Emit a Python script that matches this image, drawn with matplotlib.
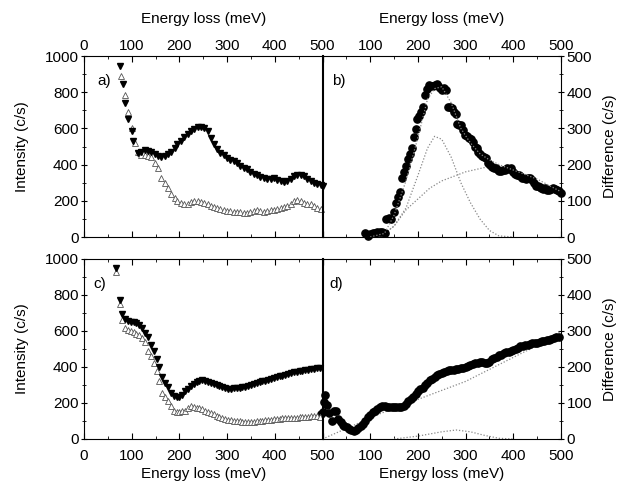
import matplotlib
matplotlib.use("Agg")
import matplotlib.pyplot as plt
from matplotlib.ticker import MultipleLocator

plt.rcParams["font.family"] = ["Liberation Sans", "DejaVu Sans"]
plt.rcParams["font.size"] = 11

# ---- panel a: intensity spectra ----
a_fill_x = [75, 82, 86, 93, 100, 103, 113, 120, 127, 134, 141, 148, 155, 162, 169, 176,
            183, 190, 196, 203, 210, 217, 224, 231, 238, 245, 252, 259, 266, 272, 279, 286,
            293, 300, 307, 314, 321, 328, 335, 342, 349, 356, 363, 370, 377, 384, 391, 398,
            405, 412, 419, 426, 433, 440, 447, 454, 461, 468, 475, 482, 489, 496, 500]
a_fill_y = [945, 843, 742, 650, 585, 530, 466, 470, 480, 475, 468, 458, 450, 440, 448, 458,
            470, 492, 512, 530, 550, 567, 585, 598, 605, 606, 600, 588, 545, 512, 488, 466,
            452, 438, 428, 418, 410, 395, 382, 374, 360, 350, 340, 330, 326, 322, 320, 324,
            316, 310, 305, 310, 322, 335, 342, 345, 335, 322, 310, 300, 292, 285, 280]
a_open_x = [78, 86, 93, 100, 107, 113, 120, 127, 134, 141, 148, 155, 162, 169, 176, 183,
            190, 196, 203, 210, 217, 224, 231, 238, 245, 252, 259, 266, 272, 279, 286, 293,
            300, 307, 314, 321, 328, 335, 342, 349, 356, 363, 370, 377, 384, 391, 398, 405,
            412, 419, 426, 433, 440, 447, 454, 461, 468, 475, 482, 489, 496]
a_open_y = [890, 785, 690, 600, 520, 470, 455, 452, 445, 440, 410, 383, 328, 300, 272, 240,
            215, 199, 190, 185, 180, 195, 200, 198, 195, 190, 180, 172, 165, 160, 155, 150,
            144, 142, 140, 140, 138, 135, 135, 140, 145, 150, 145, 140, 145, 148, 150, 155,
            160, 165, 172, 185, 200, 205, 200, 190, 185, 180, 170, 160, 155]

# ---- panel c: intensity spectra ----
c_fill_x = [68, 75, 80, 86, 92, 98, 104, 110, 116, 122, 128, 134, 140, 146, 152, 158, 164,
            170, 176, 182, 188, 194, 200, 206, 212, 218, 224, 230, 236, 242, 248, 254, 260,
            266, 272, 278, 284, 290, 296, 302, 308, 314, 320, 326, 332, 338, 344, 350, 356,
            362, 368, 374, 380, 386, 392, 398, 404, 410, 416, 422, 428, 434, 440, 446, 452,
            458, 464, 470, 476, 482, 488, 494]
c_fill_y = [950, 770, 696, 665, 655, 652, 650, 645, 635, 618, 590, 565, 525, 490, 445, 400, 345,
            310, 288, 255, 240, 232, 235, 245, 265, 280, 295, 308, 318, 325, 328, 325, 318,
            310, 305, 298, 292, 288, 283, 280, 280, 282, 283, 285, 288, 290, 295, 300, 305,
            310, 315, 320, 325, 330, 335, 338, 343, 348, 352, 357, 362, 366, 370, 374, 377,
            380, 383, 386, 388, 390, 392, 395]
c_open_x = [68, 75, 80, 86, 92, 98, 104, 110, 116, 122, 128, 134, 140, 146, 152, 158, 164,
            170, 176, 182, 188, 194, 200, 206, 212, 218, 224, 230, 236, 242, 248, 254, 260,
            266, 272, 278, 284, 290, 296, 302, 308, 314, 320, 326, 332, 338, 344, 350, 356,
            362, 368, 374, 380, 386, 392, 398, 404, 410, 416, 422, 428, 434, 440, 446, 452,
            458, 464, 470, 476, 482, 488, 494]
c_open_y = [930, 750, 660, 614, 605, 598, 595, 585, 576, 560, 540, 490, 460, 420, 380, 320, 255,
            235, 210, 185, 158, 152, 152, 153, 155, 170, 182, 180, 175, 170, 165, 158, 150,
            145, 140, 130, 122, 118, 112, 108, 105, 102, 100, 98, 96, 95, 95, 96, 97,
            98, 100, 102, 104, 106, 108, 110, 112, 113, 114, 115, 116, 116, 117, 118, 120,
            122, 124, 125, 127, 128, 126, 125]

# ---- panel b: difference spectrum and fit ----
b_x = [90, 95, 100, 105, 110, 115, 120, 125, 130, 134, 139, 144, 149, 154, 159, 163, 167,
       171, 175, 179, 183, 187, 191, 195, 199, 203, 207, 211, 215, 219, 223, 227, 231, 235,
       239, 243, 247, 251, 255, 259, 263, 267, 271, 275, 279, 283, 287, 291, 295, 299, 303,
       307, 311, 315, 319, 323, 327, 331, 335, 339, 343, 347, 351, 355, 359, 363, 367, 371,
       375, 379, 383, 387, 391, 395, 399, 403, 407, 411, 415, 419, 423, 427, 431, 435, 439,
       443, 447, 451, 455, 459, 463, 467, 471, 475, 479, 483, 487, 491, 495, 499]
b_y = [10, 3, 8, 12, 10, 14, 15, 13, 12, 50, 52, 50, 70, 93, 110, 125, 163,
       180, 197, 215, 230, 247, 275, 297, 325, 334, 345, 360, 393, 410, 421, 418, 416, 420,
       424, 418, 411, 405, 411, 405, 360, 358, 355, 345, 341, 312, 310, 309, 295, 283, 278,
       274, 270, 262, 250, 245, 235, 228, 225, 222, 219, 205, 198, 194, 190, 191, 185, 182,
       181, 185, 186, 190, 188, 191, 180, 175, 172, 170, 168, 163, 163, 160, 162, 163, 158,
       150, 142, 140, 137, 135, 133, 135, 131, 130, 133, 135, 132, 131, 128, 121]
b_fit_x = [100, 130, 150, 175, 200, 220, 235, 250, 270, 290, 310, 330, 350, 370, 400, 450, 500]
b_fit_y = [0, 10, 60, 155, 275, 380, 410, 415, 370, 300, 260, 230, 213, 200, 185, 160, 125]
b_peak_x = [100, 130, 150, 175, 200, 220, 235, 250, 270, 290, 310, 330, 350, 370, 400]
b_peak_y = [0, 10, 30, 80, 170, 245, 278, 270, 220, 150, 95, 50, 18, 3, 0]
b_bg_x = [120, 150, 175, 200, 225, 250, 300, 350]
b_bg_y = [0, 30, 75, 105, 135, 155, 180, 195]

# ---- panel d: difference spectrum and fit ----
d_x = [-3, 0, 3, 5, 9, 14, 19, 24, 28, 33, 38, 42, 46, 51, 55, 60, 66, 70, 75, 80, 85, 90,
       95, 100, 105, 110, 115, 120, 125, 130, 135, 140, 145, 150, 155, 160, 165, 170, 175,
       180, 185, 190, 195, 200, 205, 210, 215, 220, 225, 230, 235, 240, 245, 250, 255, 260,
       265, 270, 275, 280, 285, 290, 295, 300, 305, 310, 315, 320, 325, 330, 335, 340, 345,
       350, 355, 360, 365, 370, 375, 380, 385, 390, 395, 400, 405, 410, 415, 420, 425, 430,
       435, 440, 445, 450, 455, 460, 465, 470, 475, 480, 485, 490, 495]
d_y = [70, 74, 103, 121, 95, 72, 51, 78, 79, 55, 48, 40, 37, 32, 28, 25, 23, 25, 30, 37, 42, 50,
       60, 68, 74, 78, 84, 88, 93, 92, 90, 88, 88, 90, 89, 88, 88, 92, 98,
       105, 112, 118, 126, 132, 138, 142, 150, 156, 163, 168, 173, 177, 180, 182, 185, 188,
       191, 192, 193, 194, 195, 196, 197, 200, 202, 205, 208, 210, 212, 214, 213, 212, 210,
       215, 222, 225, 228, 232, 234, 238, 241, 243, 245, 247, 250, 254, 257, 258, 260, 261,
       264, 266, 268, 268, 270, 272, 273, 275, 276, 278, 280, 282, 284]
d_bg_x = [0, 60, 120, 180, 240, 300, 360, 420, 460, 500]
d_bg_y = [0, 35, 70, 100, 130, 160, 200, 240, 265, 300]
d_peak_x = [150, 200, 250, 280, 310, 340, 370, 400]
d_peak_y = [0, 8, 20, 25, 20, 10, 2, 0]

fig = plt.figure(figsize=(6.18, 4.87), dpi=100)

L, M, R = 84 / 618, 322.5 / 618, 561 / 618
top_b, top_h = 1 - 237 / 487, (237 - 56) / 487
bot_b, bot_h = 1 - 439 / 487, (439 - 259) / 487

# right-hand panels first so the thick divider of the left panels sits on top
ax_b = fig.add_axes([M, top_b, R - M, top_h])
ax_d = fig.add_axes([M, bot_b, R - M, bot_h])
ax_a = fig.add_axes([L, top_b, M - L, top_h])
ax_c = fig.add_axes([L, bot_b, M - L, bot_h])

FIT = dict(color="#888888", lw=0.9, ls=(0, (1, 1.5)))
DOWN = dict(ls="none", marker="v", ms=5, color="black", clip_on=False)
UP = dict(ls="none", marker="^", ms=5, mfc="white", mec="#555555", mew=0.6, clip_on=False)
DOT = dict(ls="none", marker="o", ms=5.2, color="black", clip_on=False)

ax_a.plot(a_open_x, a_open_y, **UP)
ax_a.plot(a_fill_x, a_fill_y, **DOWN)
ax_c.plot(c_open_x, c_open_y, **UP)
ax_c.plot(c_fill_x, c_fill_y, **DOWN)

ax_b.plot(b_peak_x, b_peak_y, **FIT)
ax_b.plot(b_bg_x, b_bg_y, **FIT)
ax_b.plot(b_x, b_y, **DOT)
ax_b.plot(b_fit_x, b_fit_y, **FIT)

ax_d.plot(d_peak_x, d_peak_y, **FIT)
ax_d.plot(d_bg_x, d_bg_y, **FIT)
ax_d.plot(d_x, d_y, **DOT)

for ax in (ax_a, ax_c):
    ax.patch.set_alpha(0)
    ax.set_xlim(0, 500)
    ax.set_ylim(0, 1000)
    ax.yaxis.set_major_locator(MultipleLocator(200))
    ax.yaxis.set_minor_locator(MultipleLocator(100))
    ax.set_ylabel("Intensity (c/s)", labelpad=11)
    ax.spines["right"].set_linewidth(1.5)
    ax.tick_params(axis="y", which="both", direction="inout", left=True, right=False)

for ax in (ax_b, ax_d):
    ax.set_xlim(0, 500)
    ax.set_ylim(0, 500)
    ax.yaxis.set_major_locator(MultipleLocator(100))
    ax.yaxis.set_minor_locator(MultipleLocator(50))
    ax.yaxis.set_label_position("right")
    ax.yaxis.tick_right()
    ax.set_ylabel("Difference (c/s)", labelpad=8)
    ax.tick_params(axis="y", which="both", direction="inout", left=False, right=True)
    ax.spines["left"].set_visible(False)

for ax in (ax_a, ax_b, ax_c, ax_d):
    ax.xaxis.set_major_locator(MultipleLocator(100))
    ax.xaxis.set_minor_locator(MultipleLocator(50))
    ax.tick_params(axis="x", which="both", direction="in", top=True, bottom=True)
    ax.tick_params(which="major", length=4, labelsize=11, pad=2)
    ax.tick_params(which="minor", length=2.5)

for ax in (ax_a, ax_b):
    ax.xaxis.set_label_position("top")
    ax.tick_params(axis="x", labeltop=True, labelbottom=False)
    ax.set_xlabel("Energy loss (meV)", labelpad=12)
for ax in (ax_c, ax_d):
    ax.tick_params(axis="x", which="major", pad=7)
    ax.set_xlabel("Energy loss (meV)", labelpad=3)

for ax in (ax_b, ax_d):
    ax.set_xticks([0, 100, 200, 300, 400, 500], ["", "100", "200", "300", "400", "500"])

ax_a.text(0.055, 0.86, "a)", transform=ax_a.transAxes, va="center")
ax_b.text(0.04, 0.86, "b)", transform=ax_b.transAxes, va="center")
ax_c.text(0.04, 0.86, "c)", transform=ax_c.transAxes, va="center")
ax_d.text(0.03, 0.86, "d)", transform=ax_d.transAxes, va="center")

fig.savefig("out.png", dpi=100, facecolor="white")
